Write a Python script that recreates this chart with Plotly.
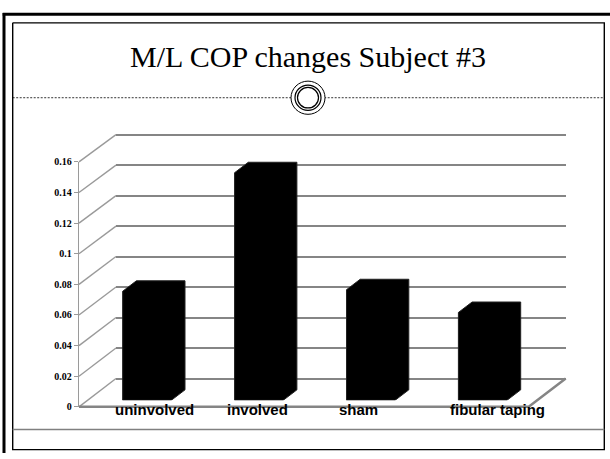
import plotly.graph_objects as go

# ---------------- data ----------------
categories = ["uninvolved", "involved", "sham", "fibular taping"]
values = [0.0714, 0.149, 0.0724, 0.0575]
tick_vals = [0, 0.02, 0.04, 0.06, 0.08, 0.10, 0.12, 0.14, 0.16]
title_text = "M/L COP changes Subject #3"

# ---------------- geometry (pixels of the 610x459 page) ----------------
W, H = 610, 459
GRID = "#858585"
WALL = "#9a9a9a"

# oblique 3-D projection of the chart box
front_x, back_x = 79.0, 116.0          # left wall, front / back edge
front_zero, back_zero = 411.7, 382.7   # floor, front / back
front_k, back_k = 1568.75, 1562.0      # px per value unit
wall_right = 565.7
bar_zero, bar_k = 405.0, 1565.0        # bar plane
bar_c0, bar_step = 147.0, 111.9        # bar centres on the page
bar_w_px, depth_dx_px, depth_dy_px = 48.6, 13.7, 10.7


def ydom(p0, k, r_lo, r_hi):
    bot = p0 - r_lo * k
    top = p0 - r_hi * k
    return [1 - bot / H, 1 - top / H]


def yf(v):
    return front_zero - v * front_k


def yb(v):
    return back_zero - v * back_k


fig = go.Figure()

# ---------- subplot 1: page decoration in page pixels ----------
sx, sy = [], []
for v in tick_vals:
    sx += [front_x, back_x, None]
    sy += [yf(v), yb(v), None]
fig.add_trace(go.Scatter(x=sx, y=sy, mode="lines", line=dict(color=WALL, width=1.4),
                         hoverinfo="skip", showlegend=False, xaxis="x", yaxis="y"))
# floor front edge and right edge
fig.add_trace(go.Scatter(x=[front_x, wall_right - (back_x - front_x), wall_right],
                         y=[front_zero, front_zero, back_zero],
                         mode="lines", line=dict(color=GRID, width=2.5),
                         hoverinfo="skip", showlegend=False, xaxis="x", yaxis="y"))
# slide frame
fig.add_trace(go.Scatter(x=[4.0, 4.0, None, 2.7, 610], y=[459, 8.3, None, 9.6, 9.6],
                         mode="lines", line=dict(color="black", width=3),
                         hoverinfo="skip", showlegend=False, xaxis="x", yaxis="y"))
fig.add_trace(go.Scatter(x=[12.7, 604.3, 604.3, 12.7, 12.7], y=[18.3, 18.3, 455.5, 455.5, 18.3],
                         mode="lines", line=dict(color="black", width=1.4),
                         hoverinfo="skip", showlegend=False, xaxis="x", yaxis="y"))
fig.add_trace(go.Scatter(x=[12.7, 604.3], y=[435, 435], mode="lines",
                         line=dict(color="#808080", width=1.5),
                         hoverinfo="skip", showlegend=False, xaxis="x", yaxis="y"))
fig.add_trace(go.Scatter(x=[12.7, 604.3], y=[95, 95], mode="lines",
                         line=dict(color="black", width=0.8, dash="2px,1.5px"),
                         hoverinfo="skip", showlegend=False, xaxis="x", yaxis="y"))

# ---------- subplot 2: back wall with gridlines ----------
fig.add_trace(go.Scatter(x=[0.5], y=[0.05], mode="markers", marker=dict(opacity=0),
                         hoverinfo="skip", showlegend=False, xaxis="x2", yaxis="y2"))

# ---------- subplot 3: bars ----------
n = len(categories)
xs = list(range(n))
bw = bar_w_px / bar_step
ddx = depth_dx_px / bar_step
ddy = depth_dy_px / bar_k
fig.add_trace(go.Bar(x=xs, y=values, width=bw, marker=dict(color="black", line=dict(width=0)),
                     hoverinfo="skip", showlegend=False, xaxis="x3", yaxis="y3"))
px_, py_ = [], []
for i, v in zip(xs, values):
    L, R = i - bw / 2, i + bw / 2
    px_ += [L, L, L + ddx, R + ddx, R + ddx, R, L, None]
    py_ += [0, v, v + ddy, v + ddy, ddy, 0, 0, None]
fig.add_trace(go.Scatter(x=px_, y=py_, mode="lines", fill="toself", fillcolor="black",
                         line=dict(color="#222222", width=1), hoverinfo="skip",
                         showlegend=False, xaxis="x3", yaxis="y3"))

# ---------- subplot 4: value axis labels on the front edge ----------
fig.add_trace(go.Scatter(x=[0.5], y=[0.05], mode="markers", marker=dict(opacity=0),
                         hoverinfo="skip", showlegend=False, xaxis="x4", yaxis="y4"))

annotations = [dict(text=title_text, xref="paper", yref="paper", x=308 / W, y=1 - 53 / H,
                    xanchor="center", yanchor="middle", showarrow=False,
                    font=dict(family="Liberation Serif", size=30, color="black"))]
for i, c in zip(xs, categories):
    annotations.append(dict(text=c, xref="x3", yref="y3", x=i - bw / 2, y=0,
                            xanchor="left", yanchor="middle", xshift=-10, yshift=-9,
                            showarrow=False,
                            font=dict(family="Liberation Sans", size=15, color="black",
                                      weight="bold")))

cx, cy = 308, 95
shapes = [
    dict(type="circle", xref="x", yref="y", x0=cx - 17, x1=cx + 17, y0=cy - 17, y1=cy + 17,
         fillcolor="white", line=dict(color="black", width=1)),
    dict(type="circle", xref="x", yref="y", x0=cx - 13, x1=cx + 13, y0=cy - 13, y1=cy + 13,
         line=dict(color="black", width=1.2)),
    dict(type="circle", xref="x", yref="y", x0=cx - 10.5, x1=cx + 10.5, y0=cy - 10.5, y1=cy + 10.5,
         line=dict(color="black", width=1.2)),
]

hidden = dict(showgrid=False, zeroline=False, showticklabels=False, showline=False, ticks="")

back_range = [-0.004, 0.165]
fig.update_layout(
    width=W, height=H, margin=dict(l=0, r=0, t=0, b=0),
    paper_bgcolor="white", plot_bgcolor="rgba(0,0,0,0)",
    showlegend=False, barmode="overlay",
    xaxis=dict(domain=[0, 1], range=[0, W], fixedrange=True, **hidden),
    yaxis=dict(domain=[0, 1], range=[H, 0], fixedrange=True, **hidden),
    xaxis2=dict(domain=[back_x / W, wall_right / W], range=[0, 1], anchor="y2", **hidden),
    yaxis2=dict(domain=ydom(back_zero, back_k, *back_range), range=back_range, anchor="x2",
                showgrid=True, gridcolor=GRID, gridwidth=2, tickvals=tick_vals,
                zeroline=False, showticklabels=False, showline=False, ticks=""),
    xaxis3=dict(domain=[(bar_c0 - 0.5 * bar_step) / W, (bar_c0 + 3.5 * bar_step) / W],
                range=[-0.5, 3.5], anchor="y3", **hidden),
    yaxis3=dict(domain=ydom(bar_zero, bar_k, 0, 0.16), range=[0, 0.16], anchor="x3", **hidden),
    xaxis4=dict(domain=[front_x / W, 0.9], range=[0, 1], anchor="y4", **hidden),
    yaxis4=dict(domain=ydom(front_zero, front_k, 0, 0.16), range=[0, 0.16], anchor="x4",
                tickvals=tick_vals, ticks="outside", ticklen=4, tickcolor=WALL, tickwidth=1,
                showline=True, linecolor=WALL, linewidth=1.4, showgrid=False, zeroline=False,
                tickfont=dict(family="Liberation Serif", size=10, color="black", weight="bold")),
    annotations=annotations, shapes=shapes,
)

fig.write_html("out.html")
